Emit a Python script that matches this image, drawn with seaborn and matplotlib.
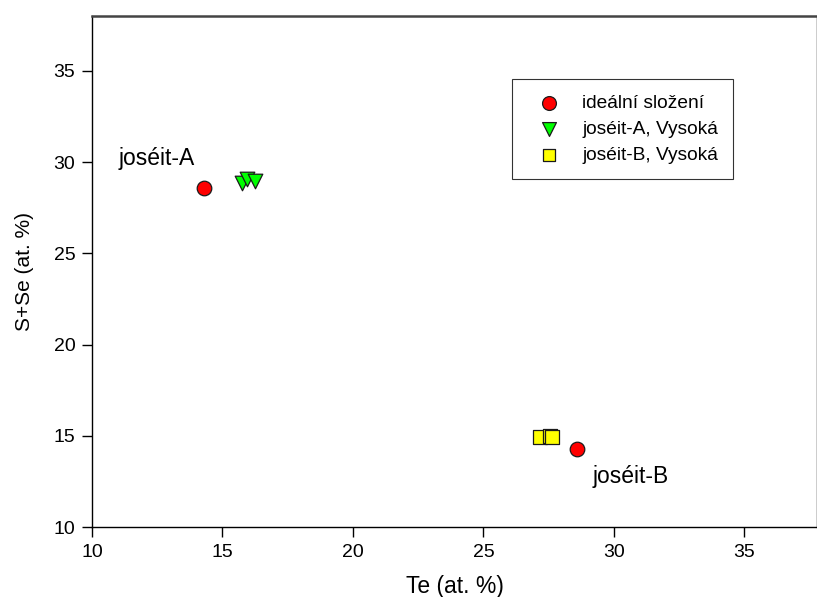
import matplotlib
matplotlib.use("Agg")
import matplotlib.pyplot as plt
import seaborn as sns
import pandas as pd

# Data
ideal_te = [14.29, 28.57]
ideal_sse = [28.57, 14.29]
josA_te = [15.75, 15.95, 16.25]
josA_sse = [28.85, 29.1, 28.95]
josB_te = [27.15, 27.55, 27.62]
josB_sse = [14.92, 14.97, 14.95]
series_names = ["ideální složení", "joséit-A, Vysoká", "joséit-B, Vysoká"]
xticks = [10, 15, 20, 25, 30, 35]
yticks = [10, 15, 20, 25, 30, 35]

rows = []
for te, s in zip(ideal_te, ideal_sse):
    rows.append((te, s, series_names[0]))
for te, s in zip(josA_te, josA_sse):
    rows.append((te, s, series_names[1]))
for te, s in zip(josB_te, josB_sse):
    rows.append((te, s, series_names[2]))
df = pd.DataFrame(rows, columns=["Te", "SSe", "series"])

sns.set_theme(style="white")
plt.rcParams['font.family'] = ['Liberation Sans', 'DejaVu Sans']
plt.rcParams['text.color'] = 'black'
plt.rcParams['axes.labelcolor'] = 'black'

fig = plt.figure(figsize=(8.17, 5.97), dpi=100)
ax = fig.add_axes([0.1126, 0.117, 0.888, 0.856])

palette = {series_names[0]: "#ff0000", series_names[1]: "#00ff00", series_names[2]: "#ffff00"}
markers = {series_names[0]: "o", series_names[1]: "v", series_names[2]: "s"}
sizes = {series_names[0]: 110, series_names[1]: 110, series_names[2]: 90}

for name in series_names:
    sub = df[df["series"] == name]
    sns.scatterplot(data=sub, x="Te", y="SSe", color=palette[name], marker=markers[name],
                    s=sizes[name], edgecolor="#1a1a1a", linewidth=0.9, ax=ax, label=name, zorder=3)

ax.set_xlim(10, 37.8)
ax.set_ylim(10, 38)
ax.set_xticks(xticks)
ax.set_yticks(yticks)
ax.tick_params(axis="both", which="both", direction="out", length=7, width=1, colors="black",
               labelsize=14, bottom=True, left=True, top=False, right=False, pad=5)
for sp in ax.spines.values():
    sp.set_color("black")
    sp.set_linewidth(1.0)
ax.spines["top"].set_color("#444444")
ax.spines["top"].set_linewidth(1.8)
ax.set_xlabel("Te (at. %)", fontsize=16.5, labelpad=10)
ax.set_ylabel("S+Se (at. %)", fontsize=15, labelpad=14)

ax.text(11.0, 30.2, "joséit-A", fontsize=16.5, ha="left", va="center")
ax.text(29.2, 12.75, "joséit-B", fontsize=16.5, ha="left", va="center")

leg = ax.legend(loc="upper left", bbox_to_anchor=(0.579, 0.877), fontsize=13.8, frameon=True,
                fancybox=False, edgecolor="black", borderpad=0.79, handletextpad=0.6,
                labelspacing=0.45, borderaxespad=0, markerscale=0.95, handlelength=2.27)
leg.get_frame().set_linewidth(0.8)

fig.savefig("out.png", dpi=100)
